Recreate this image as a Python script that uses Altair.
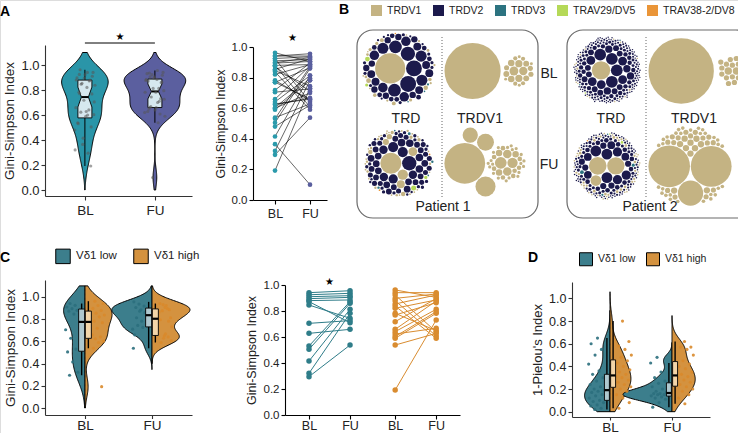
import math
import numpy as np
import pandas as pd
import altair as alt

# ---------------- values ----------------
TIMES = ["BL", "FU"]
GROUPS = ["Vδ1 low", "Vδ1 high"]

# Panel A: Gini-Simpson index, paired BL / FU per patient
A_BL = [0.941, 0.925, 0.910, 0.895, 0.880, 0.872, 0.846, 0.705, 0.628, 0.531, 0.505, 0.415,
        0.321, 0.295, 0.962, 0.941, 0.923, 0.897, 0.879, 0.854, 0.838, 0.821, 0.782, 0.769,
        0.718, 0.659, 0.641, 0.623, 0.603, 0.590, 0.538, 0.192, 0.365, 0.480, 0.600, 0.770]
A_FU = [0.956, 0.936, 0.918, 0.905, 0.885, 0.710, 0.744, 0.726, 0.659, 0.872, 0.859, 0.813,
        0.782, 0.538, 0.905, 0.941, 0.640, 0.931, 0.608, 0.923, 0.590, 0.885, 0.649, 0.864,
        0.895, 0.877, 0.813, 0.667, 0.795, 0.782, 0.628, 0.731, 0.100, 0.620, 0.700, 0.660]

# Panel C: Gini-Simpson by Vd1 group (paired)
C_LOW_BL = [0.941, 0.925, 0.910, 0.895, 0.880, 0.872, 0.846, 0.705, 0.628, 0.531, 0.505, 0.415, 0.321, 0.295]
C_LOW_FU = [0.956, 0.936, 0.918, 0.905, 0.885, 0.710, 0.744, 0.726, 0.659, 0.872, 0.859, 0.813, 0.782, 0.538]
C_HIGH_BL = [0.962, 0.941, 0.923, 0.897, 0.879, 0.854, 0.838, 0.821, 0.782, 0.769, 0.718, 0.659,
             0.641, 0.623, 0.603, 0.590, 0.538, 0.192]
C_HIGH_FU = [0.905, 0.941, 0.640, 0.931, 0.608, 0.923, 0.590, 0.885, 0.649, 0.864, 0.895, 0.877,
             0.813, 0.667, 0.795, 0.782, 0.628, 0.731]

# Panel D: 1-Pielou's index by Vd1 group
D_LOW_BL = [0.02, 0.03, 0.05, 0.06, 0.08, 0.09, 0.10, 0.12, 0.14, 0.15, 0.17, 0.18, 0.19, 0.20,
            0.22, 0.24, 0.27, 0.30, 0.33, 0.36, 0.42, 0.50, 0.55, 0.60, 0.65]
D_HIGH_BL = [0.03, 0.08, 0.12, 0.15, 0.18, 0.20, 0.22, 0.24, 0.26, 0.28, 0.30, 0.31, 0.33, 0.35,
             0.37, 0.40, 0.43, 0.45, 0.48, 0.50, 0.55, 0.58, 0.62, 0.80]
D_LOW_FU = [0.04, 0.08, 0.11, 0.12, 0.13, 0.14, 0.15, 0.15, 0.16, 0.16, 0.17, 0.18, 0.20, 0.22,
            0.25, 0.27, 0.30, 0.35, 0.43, 0.48]
D_HIGH_FU = [0.07, 0.12, 0.15, 0.18, 0.20, 0.22, 0.24, 0.26, 0.28, 0.30, 0.31, 0.33, 0.35, 0.38,
             0.40, 0.42, 0.45, 0.50, 0.55, 0.57, 0.57, 0.62]

# Panel B: clone sizes per V gene (circle packing)
GENES = ["TRDV1", "TRDV2", "TRDV3", "TRAV29/DV5", "TRAV38-2/DV8"]
P1_BL = {
    "TRDV1": [361, 9, 8, 6, 6, 5, 5, 4, 4, 4, 3, 3, 3, 2, 2, 2, 2, 1, 1, 1, 1],
    "TRDV2": [100, 100, 81, 64, 64, 49, 49, 49, 36, 36, 36, 36, 25, 25, 25, 25, 25, 25]
             + [16] * 8 + [9] * 8 + [4] * 8 + [2] * 6,
    "TRDV3": [2, 1, 1],
    "TRAV29/DV5": [9, 4],
    "TRAV38-2/DV8": [1],
}
P1_FU = {
    "TRDV1": [156, 38, 27, 22, 13, 10, 7, 7, 4, 4, 4] + [2] * 8 + [1] * 20,
    "TRDV2": [72, 36, 36, 30, 25, 25, 25, 20, 20, 20, 20] + [16] * 8 + [12] * 10 + [9] * 14
             + [4] * 15 + [2] * 10,
    "TRDV3": [3, 2, 2, 1, 1],
    "TRAV29/DV5": [9, 4],
    "TRAV38-2/DV8": [1, 1],
}
P2_BL = {
    "TRDV1": [156, 2, 2] + [1] * 15,
    "TRDV2": [64, 64, 64, 64, 36, 36, 36, 36, 36, 25, 25, 25, 25] + [16] * 10 + [9] * 15
             + [4] * 30 + [2] * 60 + [1] * 80,
    "TRDV3": [1, 1],
    "TRAV29/DV5": [1],
    "TRAV38-2/DV8": [],
}
P2_FU = {
    "TRDV1": [130, 125, 48] + [3] * 10 + [2] * 15 + [1] * 30,
    "TRDV2": [49, 49, 49, 36, 36, 36, 25, 25, 25, 25] + [16] * 6 + [9] * 12 + [4] * 25
             + [2] * 40 + [1] * 60,
    "TRDV3": [6, 4, 2, 1],
    "TRAV29/DV5": [3, 1],
    "TRAV38-2/DV8": [1],
}

# ---------------- style / layout ----------------
FONT = "Liberation Sans"
W, H = 738, 433
INK = "#222222"
TEAL_A, SLATE_A, BOX_A = "#2a95a8", "#5b5f9f", "#d6e8ef"
TEAL_C, ORANGE_C = "#3c7e8c", "#d4923f"
TEAL_PT, ORANGE_PT = "#2b6f7d", "#d9892b"
BOX_LOW, BOX_HIGH = "#afc8cf", "#f3d5a9"
TEAL_LINE, ORANGE_LINE = "#2f7d89", "#d98c30"
GENE_COLORS = ["#c4b383", "#1c1a4c", "#2c7380", "#b5d958", "#ea9538"]
TICK_VALUES = [0, 0.2, 0.4, 0.6, 0.8, 1.0]
TIME_EXPR = "datum.value < 1.5 ? 'BL' : 'FU'"


def jit(k):
    return ((k + 1) * 0.6180339887) % 1.0


def kde(vals, lo_lim, hi_lim, n=150):
    v = np.asarray(vals, float)
    sd = v.std(ddof=1)
    q75, q25 = np.percentile(v, [75, 25])
    s = min(sd, (q75 - q25) / 1.34) if q75 > q25 else sd
    bw = 0.9 * s * len(v) ** -0.2
    lo = max(lo_lim, v.min() - 3 * bw)
    hi = min(hi_lim, v.max() + 3 * bw)
    g = np.linspace(lo, hi, n)
    d = np.exp(-0.5 * ((g[:, None] - v[None, :]) / bw) ** 2).sum(1) / (len(v) * bw * math.sqrt(2 * math.pi))
    return g, d


def box_stats(vals):
    v = np.sort(np.asarray(vals, float))
    q1, m, q3 = np.percentile(v, [25, 50, 75])
    iqr = q3 - q1
    lo = v[v >= q1 - 1.5 * iqr].min()
    hi = v[v <= q3 + 1.5 * iqr].max()
    return q1, m, q3, lo, hi, 1.58 * iqr / math.sqrt(len(v))


def qscale(domain, rng):
    return alt.Scale(domain=domain, range=rng, nice=False, zero=False)


def y_axis(px, title, fs, tfs, tpad, col, w):
    return alt.Axis(orient="left", offset=-px, values=TICK_VALUES, format=".1f", title=title,
                    labelFontSize=fs, titleFontSize=tfs, titlePadding=tpad, tickSize=4,
                    labelPadding=2, domainColor=col, tickColor=col, domainWidth=w, tickWidth=w,
                    labelColor=INK, titleColor=INK, titleFontWeight="normal", grid=False,
                    labelFont=FONT, titleFont=FONT)


def x_axis(py, values, expr, fs, col, w, tick=4, pad=3):
    return alt.Axis(orient="bottom", offset=py - H, values=values, labelExpr=expr, title=None,
                    labelFontSize=fs, tickSize=tick, labelPadding=pad, domainColor=col, tickColor=col,
                    domainWidth=w, tickWidth=w, labelColor=INK, grid=False, labelFont=FONT,
                    labelAngle=0)


class Panel:
    """Holds the shared scales/axes of one panel so every layer uses identical definitions."""

    def __init__(self, xs, ys, xax=None, yax=None):
        self.xs, self.ys, self.xax, self.yax = xs, ys, xax, yax

    def X(self, f="x"):
        return alt.X(f"{f}:Q", scale=self.xs, axis=self.xax)

    def Y(self, f="y"):
        return alt.Y(f"{f}:Q", scale=self.ys, axis=self.yax)


def polygon_rows(ys_, left, right, key):
    """outline path: up the left edge, down the right edge, closed."""
    pts = list(zip(left, ys_)) + list(zip(right[::-1], ys_[::-1])) + [(left[0], ys_[0])]
    return [dict(k=key, o=i, x=float(x), y=float(y)) for i, (x, y) in enumerate(pts)]


def filled_shape(P, ys_, left, right, fill, key, stroke_w=1.0):
    df = pd.DataFrame(dict(y=ys_, x=left, x2=right))
    area = alt.Chart(df).mark_area(orient="horizontal", color=fill, opacity=1, strokeWidth=0).encode(
        y=P.Y(), x=P.X(), x2="x2:Q")
    outline = alt.Chart(pd.DataFrame(polygon_rows(list(ys_), list(left), list(right), key))).mark_line(
        color="black", strokeWidth=stroke_w).encode(x=P.X(), y=P.Y(), order="o:Q")
    return [area, outline]


# ---------------- panel A: violin ----------------
def panel_a_violin():
    P = Panel(qscale([0.43, 2.53], [45, 192]), qscale([-0.048, 1.16], [196, 45]),
              x_axis(196, [1, 2], TIME_EXPR, 13.5, "#333", 1.1),
              y_axis(45, "Gini-Simpson Index", 13, 13.5, 4, "#333", 1.1))
    groups = [("BL", 1.0, A_BL, TEAL_A), ("FU", 2.0, A_FU, SLATE_A)]
    kd = [kde(v, 0.0, 1.1) for _, _, v, _ in groups]
    sf = 0.44 / max(d.max() for _, d in kd)
    layers, boxes, pts, whisk, med = [], [], [], [], []
    for (t, c, vals, col), (g, d) in zip(groups, kd):
        layers += filled_shape(P, g, c - d * sf, c + d * sf, col, "v" + t)
        for k, v in enumerate(vals):
            pts.append(dict(y=v, x=c + (jit(k) - 0.5) * 0.3))
        q1, m, q3, lo, hi, notch = box_stats(vals)
        w = 0.1
        nlo, nhi = max(q1, m - notch), min(q3, m + notch)
        by = np.array([q1, nlo, m, nhi, q3])
        bw = np.array([w, w, w / 2, w, w])
        boxes += filled_shape(P, by, c - bw, c + bw, BOX_A, "b" + t, 0.9)
        whisk += [dict(x=c, y=q3, y2=hi), dict(x=c, y=lo, y2=q1)]
        med.append(dict(x=c - w / 2, x2=c + w / 2, y=m))
    l_wh = alt.Chart(pd.DataFrame(whisk)).mark_rule(color="black", strokeWidth=1).encode(x=P.X(), y=P.Y(), y2="y2:Q")
    l_med = alt.Chart(pd.DataFrame(med)).mark_rule(color="black", strokeWidth=2).encode(x=P.X(), x2="x2:Q", y=P.Y())
    l_pts = alt.Chart(pd.DataFrame(pts)).mark_circle(size=10, color="#555555", opacity=0.55).encode(x=P.X(), y=P.Y())
    sig = pd.DataFrame([dict(x=1.0, x2=2.0, y=1.176)])
    l_sig = alt.Chart(sig).mark_rule(color="black", strokeWidth=1).encode(x=P.X(), x2="x2:Q", y=P.Y())
    star = pd.DataFrame([dict(x=1.5, y=1.222, s="★")])
    l_star = alt.Chart(star).mark_text(font="DejaVu Sans", fontSize=10, color="black").encode(
        x=P.X(), y=P.Y(), text="s:N")
    return alt.layer(*layers, l_wh, *boxes, l_med, l_pts, l_sig, l_star)


# ---------------- panel A: paired ----------------
def panel_a_paired():
    P = Panel(qscale([0.371, 2.486], [253, 327]), qscale([0, 1.0], [200, 47]),
              x_axis(200, [1, 2], TIME_EXPR, 12.5, "black", 1.1),
              y_axis(253, "Gini-Simpson Index", 11.5, 12.5, 4, "black", 1.1))
    rows = []
    for i, (b, f) in enumerate(zip(A_BL, A_FU)):
        rows += [dict(id=i, x=1.0, y=b, col="#2b9aab"), dict(id=i, x=2.0, y=f, col="#5a5f9e")]
    df = pd.DataFrame(rows)
    l_line = alt.Chart(df).mark_line(color="black", strokeWidth=0.6).encode(x=P.X(), y=P.Y(), detail="id:N")
    l_pt = alt.Chart(df).mark_circle(size=22, opacity=1).encode(
        x=P.X(), y=P.Y(), color=alt.Color("col:N", scale=None))
    star = pd.DataFrame([dict(x=1.5, y=1.06, s="★")])
    l_star = alt.Chart(star).mark_text(font="DejaVu Sans", fontSize=10, color="black").encode(
        x=P.X(), y=P.Y(), text="s:N")
    return alt.layer(l_line, l_pt, l_star)


# ---------------- split violins (C and D) ----------------
def group_legend(lx, ly, size, fs, pad):
    return alt.Legend(orient="none", legendX=lx, legendY=ly, direction="horizontal", title=None,
                      symbolType="square", symbolSize=size, symbolStrokeColor="black",
                      symbolStrokeWidth=1, labelFontSize=fs, labelFont=FONT, labelColor=INK,
                      columnPadding=pad, labelOffset=5, symbolOpacity=1)


def split_violin(P, data, max_half, legend, box_off, box_hw, pt_lo, pt_hi):
    kd = [kde(v, 0.0, 1.1) for _, _, v in data]
    sf = max_half / max(d.max() for _, d in kd)
    layers, pts, box, whisk, med = [], [], [], [], []
    for idx, ((c, grp, vals), (g, d)) in enumerate(zip(data, kd)):
        low = grp == GROUPS[0]
        sgn = -1 if low else 1
        key = f"{c}-{grp}"
        centre = np.full_like(g, c)
        if low:
            layers += filled_shape(P, g, c - d * sf, centre, TEAL_C, key)
        else:
            layers += filled_shape(P, g, centre, c + d * sf, ORANGE_C, key)
        for k, v in enumerate(vals):
            pts.append(dict(x=c + sgn * (pt_lo + jit(k + idx) * (pt_hi - pt_lo)), y=v,
                            col=TEAL_PT if low else ORANGE_PT))
        q1, m, q3, lo, hi, _ = box_stats(vals)
        bc = c + sgn * box_off
        box.append(dict(x=bc - box_hw, x2=bc + box_hw, y=q1, y2=q3, col=BOX_LOW if low else BOX_HIGH))
        whisk += [dict(x=bc, y=q3, y2=hi), dict(x=bc, y=lo, y2=q1)]
        med.append(dict(x=bc - box_hw, x2=bc + box_hw, y=m))
    l_pts = alt.Chart(pd.DataFrame(pts)).mark_circle(size=10, opacity=0.9).encode(
        x=P.X(), y=P.Y(), color=alt.Color("col:N", scale=None))
    l_wh = alt.Chart(pd.DataFrame(whisk)).mark_rule(color="black", strokeWidth=1.4).encode(x=P.X(), y=P.Y(), y2="y2:Q")
    l_box = alt.Chart(pd.DataFrame(box)).mark_rect(stroke="black", strokeWidth=0.9, opacity=1).encode(
        x=P.X(), x2="x2:Q", y=P.Y(), y2="y2:Q", color=alt.Color("col:N", scale=None))
    l_med = alt.Chart(pd.DataFrame(med)).mark_rule(color="black", strokeWidth=2.2).encode(x=P.X(), x2="x2:Q", y=P.Y())
    # zero-size marks that only carry the group legend
    key_df = pd.DataFrame(dict(grp=GROUPS, x=[1.0, 1.0], x2=[1.0, 1.0], y=[0.5, 0.5], y2=[0.5, 0.5]))
    l_key = alt.Chart(key_df).mark_rect(opacity=1, strokeWidth=0).encode(
        x=P.X(), x2="x2:Q", y=P.Y(), y2="y2:Q",
        fill=alt.Fill("grp:N", scale=alt.Scale(domain=GROUPS, range=[TEAL_C, ORANGE_C]), legend=legend))
    return alt.layer(*layers, l_pts, l_wh, l_box, l_med, l_key)


def panel_c_violin():
    P = Panel(qscale([0.403, 2.597], [45, 192]), qscale([-0.063, 1.153], [415, 280]),
              x_axis(415, [1, 2], TIME_EXPR, 13.5, "#333", 1.1, tick=3.5, pad=0),
              y_axis(45, "Gini-Simpson Index", 12.5, 13.5, 4, "#333", 1.1))
    data = [(1.0, GROUPS[0], C_LOW_BL), (1.0, GROUPS[1], C_HIGH_BL),
            (2.0, GROUPS[0], C_LOW_FU), (2.0, GROUPS[1], C_HIGH_FU)]
    return split_violin(P, data, 0.6, group_legend(55, 248, 210, 11.5, 14), 0.05, 0.045, 0.1, 0.3)


def panel_d_violin():
    P = Panel(qscale([0.387, 2.613], [572, 710]), qscale([-0.047, 1.145], [417, 282]),
              x_axis(417, [1, 2], TIME_EXPR, 13.5, "#333", 1.1, tick=3, pad=0),
              y_axis(572, "1-Pielou's Index", 12.5, 13, 4, "#333", 1.1))
    data = [(1.0, GROUPS[0], D_LOW_BL), (1.0, GROUPS[1], D_HIGH_BL),
            (2.0, GROUPS[0], D_LOW_FU), (2.0, GROUPS[1], D_HIGH_FU)]
    return split_violin(P, data, 0.79, group_legend(579, 252, 169, 10.5, 8), 0.05, 0.04, 0.08, 0.35)


# ---------------- panel C: paired ----------------
def panel_c_paired():
    expr = "(datum.value < 1.5 || (datum.value > 3 && datum.value < 3.5)) ? 'BL' : 'FU'"
    P = Panel(qscale([0.415, 4.68], [285, 460]), qscale([0, 1.0], [415, 285]),
              x_axis(415, [1, 2, 3.1, 4.1], expr, 12.5, "black", 1.1, tick=4, pad=0),
              y_axis(285, "Gini-Simpson Index", 11.5, 12.5, 5, "black", 1.1))
    rows = []
    for i, (b, f) in enumerate(zip(C_LOW_BL, C_LOW_FU)):
        rows += [dict(id=f"l{i}", x=1.0, y=b, col=TEAL_LINE), dict(id=f"l{i}", x=2.0, y=f, col=TEAL_LINE)]
    for i, (b, f) in enumerate(zip(C_HIGH_BL, C_HIGH_FU)):
        rows += [dict(id=f"h{i}", x=3.1, y=b, col=ORANGE_LINE), dict(id=f"h{i}", x=4.1, y=f, col=ORANGE_LINE)]
    df = pd.DataFrame(rows)
    l_line = alt.Chart(df).mark_line(strokeWidth=1).encode(
        x=P.X(), y=P.Y(), detail="id:N", color=alt.Color("col:N", scale=None))
    l_pt = alt.Chart(df).mark_circle(size=30, opacity=1).encode(
        x=P.X(), y=P.Y(), color=alt.Color("col:N", scale=None))
    star = pd.DataFrame([dict(x=1.5, y=1.02, s="★")])
    l_star = alt.Chart(star).mark_text(font="DejaVu Sans", fontSize=10, color="black").encode(
        x=P.X(), y=P.Y(), text="s:N")
    return alt.layer(l_line, l_pt, l_star)


# ---------------- panel B: circle packing ----------------
def pack_siblings(radii):
    R = [float(r) for r in radii]
    n = len(R)
    X = [0.0] * n
    Y = [0.0] * n
    if n < 2:
        return X, Y
    X[0] = -R[1]
    X[1] = R[0]
    if n == 2:
        return X, Y

    def place(b, a, c):
        dx, dy = X[b] - X[a], Y[b] - Y[a]
        d2 = dx * dx + dy * dy
        if d2:
            a2 = (R[a] + R[c]) ** 2
            b2 = (R[b] + R[c]) ** 2
            if a2 > b2:
                x = (d2 + b2 - a2) / (2 * d2)
                y = math.sqrt(max(0.0, b2 / d2 - x * x))
                X[c] = X[b] - x * dx - y * dy
                Y[c] = Y[b] - x * dy + y * dx
            else:
                x = (d2 + a2 - b2) / (2 * d2)
                y = math.sqrt(max(0.0, a2 / d2 - x * x))
                X[c] = X[a] + x * dx - y * dy
                Y[c] = Y[a] + x * dy + y * dx
        else:
            X[c] = X[a] + R[c]
            Y[c] = Y[a]

    def intersects(a, b):
        dr = R[a] + R[b] - 1e-6
        dx, dy = X[b] - X[a], Y[b] - Y[a]
        return dr > 0 and dr * dr > dx * dx + dy * dy

    class Node:
        __slots__ = ("i", "next", "prev")

        def __init__(self, i):
            self.i = i
            self.next = None
            self.prev = None

    def score(node):
        a, b = node.i, node.next.i
        ab = R[a] + R[b]
        dx = (X[a] * R[b] + X[b] * R[a]) / ab
        dy = (Y[a] * R[b] + Y[b] * R[a]) / ab
        return dx * dx + dy * dy

    place(1, 0, 2)
    a, b, c = Node(0), Node(1), Node(2)
    a.next = b; c.prev = b
    b.next = c; a.prev = c
    c.next = a; b.prev = a
    i = 3
    while i < n:
        place(a.i, b.i, i)
        cn = Node(i)
        j, k = b.next, a.prev
        sj, sk = R[b.i], R[a.i]
        retry = False
        while True:
            if sj <= sk:
                if intersects(j.i, i):
                    b = j; a.next = b; b.prev = a; retry = True
                    break
                sj += R[j.i]; j = j.next
            else:
                if intersects(k.i, i):
                    a = k; a.next = b; b.prev = a; retry = True
                    break
                sk += R[k.i]; k = k.prev
            if j is k.next:
                break
        if retry:
            continue
        cn.prev = a; cn.next = b; a.next = cn; b.prev = cn; b = cn
        aa = score(a)
        c = cn
        while True:
            c = c.next
            if c is b:
                break
            ca = score(c)
            if ca < aa:
                a, aa = c, ca
        b = a.next
        i += 1
    return X, Y


def enclose(X, Y, R):
    X, Y, R = np.asarray(X), np.asarray(Y), np.asarray(R)
    x0 = ((X - R).min() + (X + R).max()) / 2
    y0 = ((Y - R).min() + (Y + R).max()) / 2
    return x0, y0, float(np.max(np.hypot(X - x0, Y - y0) + R))


def ordered_items(clones, genes):
    items = []
    for gene in genes:
        counts = clones.get(gene, [])
        tot = {}
        for cnt in counts:
            tot[cnt] = tot.get(cnt, 0) + 1
        seen = {}
        for cnt in counts:
            j = seen.get(cnt, 0)
            seen[cnt] = j + 1
            items.append((gene, cnt, (j + 0.5) / tot[cnt]))
    items.sort(key=lambda t: (-t[1], t[2]))
    return items


def layout_pack(r, pad, n_major):
    """front-chain packing; if n_major is set, the minor circles form a sub-cluster first."""
    rr = r + pad
    if n_major is None or n_major >= len(r):
        X, Y = pack_siblings(rr)
        return np.array(X), np.array(Y)
    minor = rr[n_major:]
    mx, my = pack_siblings(minor)
    cx0, cy0, cr = enclose(mx, my, minor)
    top = list(rr[:n_major]) + [cr + pad]
    order = np.argsort(-np.array(top), kind="stable")
    tx, ty = pack_siblings(np.array(top)[order])
    TX, TY = np.zeros(len(top)), np.zeros(len(top))
    TX[order], TY[order] = tx, ty
    X = np.concatenate([TX[:n_major], np.array(mx) - cx0 + TX[-1]])
    Y = np.concatenate([TY[:n_major], np.array(my) - cy0 + TY[-1]])
    return X, Y


def build_pack(clones, genes, cx, cy, target, n_major=None, gap=0.8):
    items = ordered_items(clones, genes)
    r = np.sqrt([t[1] for t in items])
    pad, s = 0.0, 1.0
    for _ in range(2):
        X, Y = layout_pack(r, pad, n_major)
        x0, y0, E = enclose(X, Y, r + pad)
        s = target / E
        pad = gap / 2 / s
    rows = []
    for (gene, cnt, _), xx, yy, rad in zip(items, X, Y, r):
        rp = rad * s
        rows.append(dict(gene=gene, x=cx + (xx - x0) * s, y=cy + (yy - y0) * s, sz=(2 * rp) ** 2))
    return rows


PACKS = [  # clones, genes shown, centre x, centre y, radius (px), large clones packed apart
    (P1_BL, GENES, 399, 69, 38, None), (P1_BL, ["TRDV1"], 489, 71, 45, 1),
    (P1_FU, GENES, 399, 163, 36, None), (P1_FU, ["TRDV1"], 485, 162, 41, 4),
    (P2_BL, GENES, 607, 70, 35, None), (P2_BL, ["TRDV1"], 697, 71, 49, 1),
    (P2_FU, GENES, 607, 166, 35, None), (P2_FU, ["TRDV1"], 690, 166, 42, None),
]
FRAMES = [dict(x=357, x2=538, y=30, y2=218), dict(x=567, x2=752, y=30, y2=218)]
DIVIDERS = [dict(x=442, y=37, y2=198), dict(x=646, y=37, y2=198)]
LABELS = [("TRD", 406, 119), ("TRDV1", 480, 119), ("TRD", 611, 119), ("TRDV1", 694, 119),
          ("Patient 1", 443, 207), ("Patient 2", 650, 207), ("BL", 549, 74), ("FU", 549, 165)]
LETTERS = [("A", 5, 12), ("B", 344, 10), ("C", 5, 258), ("D", 533, 258)]


def panel_b():
    P = Panel(qscale([0, W], [0, W]), qscale([0, H], [0, H]))
    circ = []
    for clones, genes, cx, cy, tr, nm in PACKS:
        circ += build_pack(clones, genes, cx, cy, tr, nm)
    l_circ = alt.Chart(pd.DataFrame(circ)).mark_circle(opacity=1, strokeWidth=0).encode(
        x=P.X(), y=P.Y(), size=alt.Size("sz:Q", scale=None),
        color=alt.Color("gene:N", scale=alt.Scale(domain=GENES, range=GENE_COLORS),
                        legend=alt.Legend(orient="none", legendX=371, legendY=5, direction="horizontal",
                                          title=None, symbolType="square", symbolSize=121,
                                          symbolStrokeWidth=0, symbolOpacity=1, labelFontSize=10.5,
                                          labelFont=FONT, labelColor=INK, columnPadding=11, labelOffset=5)))
    l_frame = alt.Chart(pd.DataFrame(FRAMES)).mark_rect(fillOpacity=0, stroke="#6b6b6b", strokeWidth=1.2,
                                                        cornerRadius=16).encode(x=P.X(), x2="x2:Q", y=P.Y(), y2="y2:Q")
    l_div = alt.Chart(pd.DataFrame(DIVIDERS)).mark_rule(color="#555555", strokeWidth=0.9, strokeDash=[1, 2]).encode(
        x=P.X(), y=P.Y(), y2="y2:Q")
    lab = pd.DataFrame([dict(t=t, x=x, y=y) for t, x, y in LABELS])
    l_lab = alt.Chart(lab).mark_text(font=FONT, fontSize=14, color=INK, baseline="middle").encode(
        x=P.X(), y=P.Y(), text="t:N")
    let = pd.DataFrame([dict(t=t, x=x, y=y) for t, x, y in LETTERS])
    l_let = alt.Chart(let).mark_text(font=FONT, fontSize=14, fontWeight="bold", color="black",
                                     baseline="middle").encode(x=P.X(), y=P.Y(), text="t:N")
    return alt.layer(l_frame, l_div, l_circ, l_lab, l_let)


chart = alt.layer(
    panel_a_violin(), panel_a_paired(), panel_b(), panel_c_violin(), panel_c_paired(), panel_d_violin()
).resolve_scale(
    x="independent", y="independent", color="independent", fill="independent", size="independent"
).resolve_axis(
    x="independent", y="independent"
).resolve_legend(
    color="independent", fill="independent"
).properties(
    width=W, height=H, padding=0, autosize=alt.AutoSizeParams(type="none")
).configure_view(stroke=None).configure(font=FONT)

chart.save("out.html", embed_options={"renderer": "svg", "actions": False})
